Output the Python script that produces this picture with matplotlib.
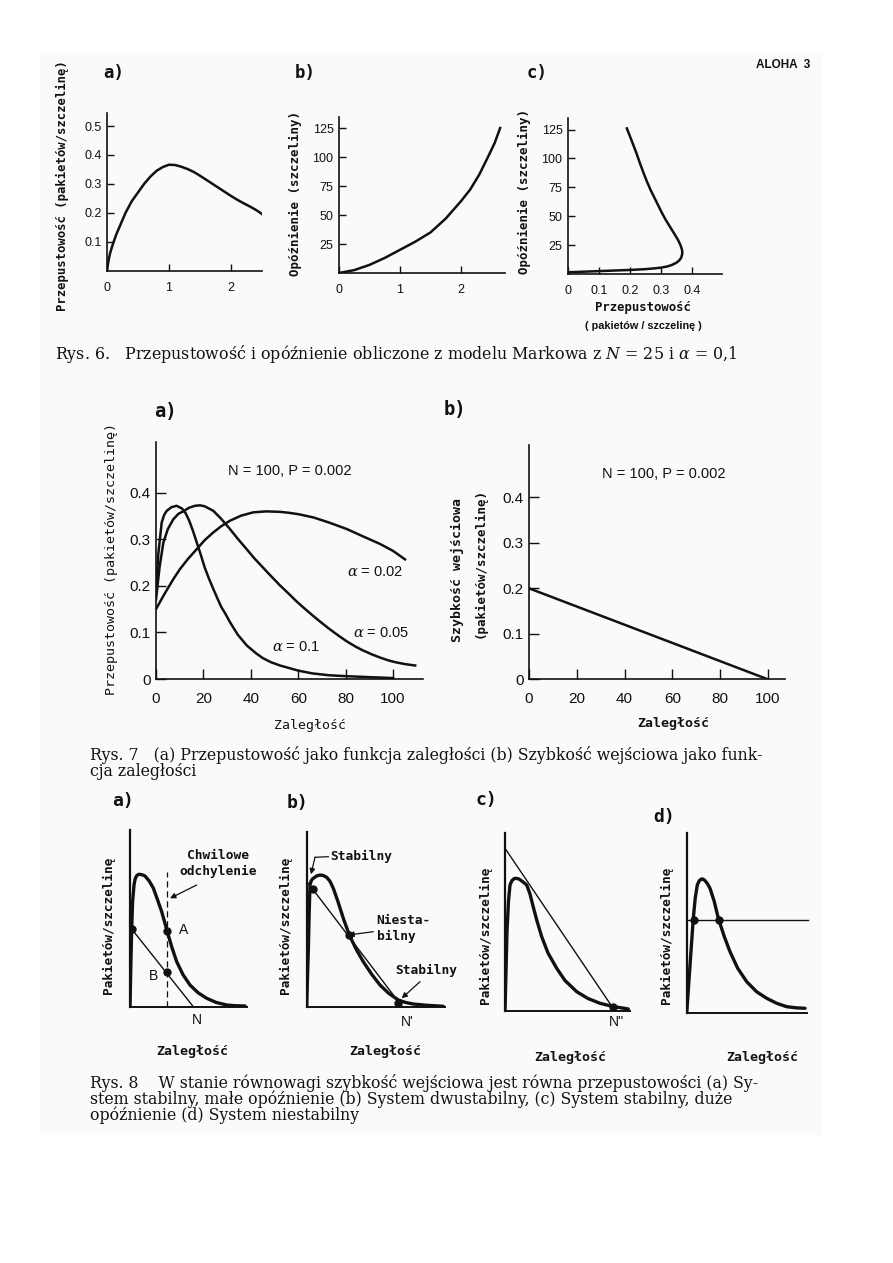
import matplotlib
matplotlib.use("Agg")
import matplotlib.pyplot as plt
from matplotlib.patches import Rectangle

plt.rcParams['mathtext.fontset'] = 'dejavuserif'

# ---------------- data ----------------
# Rys. 6 a) throughput vs offered load G
g6a = [0, 0.025, 0.05, 0.1, 0.15, 0.2, 0.3, 0.4, 0.5, 0.6, 0.7, 0.8, 0.9, 1.0, 1.1, 1.2, 1.3, 1.4, 1.5, 1.6, 1.7, 1.8, 1.9, 2.0, 2.1, 2.2, 2.3, 2.4, 2.47, 2.53]
s6a = [0, 0.035, 0.06, 0.095, 0.125, 0.15, 0.2, 0.24, 0.27, 0.30, 0.325, 0.345, 0.358, 0.366, 0.365, 0.359, 0.351, 0.341, 0.328, 0.314, 0.300, 0.286, 0.272, 0.258, 0.245, 0.233, 0.222, 0.21, 0.2, 0.19]
# Rys. 6 b) delay vs G
g6b = [0, 0.25, 0.5, 0.75, 1.0, 1.25, 1.5, 1.75, 2.0, 2.15, 2.3, 2.45, 2.55, 2.64]
d6b = [0, 2.5, 7, 13, 20, 27, 35, 47, 62, 72, 85, 101, 112, 125]
# Rys. 6 c) delay vs throughput
s6c = [0.0, 0.05, 0.10, 0.15, 0.20, 0.25, 0.28, 0.30, 0.32, 0.335, 0.35, 0.36, 0.366, 0.369, 0.368, 0.363, 0.355, 0.345, 0.33, 0.315, 0.302, 0.29, 0.278, 0.266, 0.254, 0.243, 0.232, 0.221, 0.206, 0.19]
d6c = [1.5, 2.0, 2.5, 3.0, 3.5, 4.2, 4.9, 5.5, 6.5, 7.8, 9.8, 12, 14.5, 18, 21, 25, 29.5, 34, 40.5, 47, 53.5, 60, 66.5, 73, 80.5, 88, 96, 104.5, 115, 126]

# Rys. 7 a) throughput vs backlog for three alphas
n01 = [0, 1, 2.4, 3.4, 4.5, 6.5, 8.7, 11, 12.5, 14, 15.6, 17.2, 19, 20.5, 22.3, 24.2, 26, 27.5, 29.5, 31.2, 34.5, 38.3, 42, 45, 48.5, 52.3, 60, 66, 73, 80.5, 90, 100]
s01 = [0.19, 0.27, 0.336, 0.352, 0.361, 0.369, 0.372, 0.366, 0.356, 0.34, 0.318, 0.293, 0.265, 0.24, 0.216, 0.193, 0.172, 0.155, 0.138, 0.122, 0.095, 0.072, 0.056, 0.045, 0.036, 0.029, 0.018, 0.012, 0.008, 0.006, 0.004, 0.002]
n005 = [0, 1.5, 3.1, 5, 7.3, 9.5, 11.5, 14, 16.5, 18.6, 20.5, 22, 24.2, 27.5, 31.2, 34.5, 38.2, 41.5, 45, 48.5, 52.3, 56, 59, 62.5, 66.4, 70, 73, 77, 80.4, 84, 87, 91, 94.5, 98, 101, 105, 109.3]
s005 = [0.17, 0.24, 0.293, 0.322, 0.343, 0.355, 0.36, 0.368, 0.372, 0.373, 0.371, 0.367, 0.361, 0.344, 0.322, 0.301, 0.279, 0.259, 0.24, 0.221, 0.201, 0.183, 0.168, 0.152, 0.135, 0.12, 0.108, 0.093, 0.081, 0.07, 0.062, 0.053, 0.046, 0.04, 0.036, 0.032, 0.029]
n002 = [0, 2.5, 5, 7.5, 10.1, 13.5, 17.2, 20.5, 24.2, 27.5, 31.2, 36, 41.1, 46.5, 52.3, 56, 60, 66.4, 73, 80.5, 87, 94.5, 100, 105]
s002 = [0.15, 0.173, 0.195, 0.216, 0.236, 0.258, 0.279, 0.298, 0.315, 0.328, 0.34, 0.351, 0.358, 0.36, 0.359, 0.357, 0.354, 0.347, 0.336, 0.322, 0.307, 0.29, 0.275, 0.257]
# Rys. 7 b) input rate vs backlog
n7b = [0, 100]
r7b = [0.2, 0.0]

# Rys. 8 schematic panels (arbitrary units)
xa = [0, 0.8, 1.7, 2.6, 4, 5.2, 6.7, 8.3, 10, 12.5, 15, 19, 23.3, 27.5, 31.7, 34.5, 37.3, 42, 46.7, 53, 60, 68, 76.7, 86, 96.7, 105, 115]
ya = [0, 40, 78.4, 105, 121.7, 128, 131, 132.2, 132.4, 131.8, 130.7, 126, 118.7, 107, 95, 85, 75, 59, 45, 32, 21.7, 14, 8.4, 4.3, 1.7, 1.0, 0.7]
la_x = [1.7, 63.3]
la_y = [77.7, 0]
dots_a_x = [1.7, 37.3, 37.3]
dots_a_y = [77.7, 75.7, 35]
dash_a_x = [37.3, 37.3]
dash_a_y = [0, 134.4]

xb = [0, 0.8, 1.7, 2.5, 3.3, 4.5, 6, 8, 10.5, 13.3, 16.5, 20, 23.3, 26.6, 31.5, 36.6, 42.6, 49.5, 56.6, 65, 73.3, 82, 91.6, 99, 106.6, 120, 136.6]
yb = [0, 30, 60, 95, 122.3, 126.5, 128.5, 130, 131.5, 132.3, 131.8, 130, 126, 119, 105, 89, 72.3, 58, 45.6, 33, 22.3, 14, 7.3, 4.8, 3.3, 2, 1]
lb_x = [1.6, 96]
lb_y = [124, 0]
dots_b_x = [6.6, 42.3, 91.6]
dots_b_y = [118, 72.6, 4]

xc = [0, 1, 2, 3.5, 5, 7, 9, 11, 14, 17.5, 21.7, 25, 28, 32, 36.7, 43, 51.7, 60, 71.7, 83, 95, 108, 123.3]
yc = [0, 40, 80, 110, 126, 130.5, 132.3, 132.7, 132, 129.5, 126, 117, 105, 90, 74.3, 58, 42.7, 30.5, 19.3, 12.5, 7.7, 4.5, 2]
lc_x = [0, 110]
lc_y = [162.7, 0]
dots_c_x = [108.3]
dots_c_y = [4.3]

xd = [0, 3.3, 6.6, 8.5, 10.6, 12.5, 14.5, 16, 18, 20.5, 23.3, 27.5, 31.6, 37.5, 43.3, 51, 60, 70, 80, 90, 100, 109, 118.3]
yd = [0, 48, 95, 115, 128.3, 132.5, 134.2, 134.3, 133, 130, 125, 112, 95, 77, 61.6, 45, 31.6, 21.5, 15, 10, 6.6, 5.5, 5]
ld_x = [0, 121.6]
ld_y = [93.3, 93.3]
dots_d_x = [7.6, 32.6]
dots_d_y = [93.3, 93.3]

# ---------------- figure ----------------
W, H = 893, 1263
fig = plt.figure(figsize=(W / 100, H / 100), dpi=100)
fig.patch.set_facecolor('white')
fig.add_artist(Rectangle((40 / W, 1 - 1135 / H), (823 - 40) / W, (1135 - 52) / H,
                         transform=fig.transFigure, facecolor='#fafafa',
                         edgecolor='none', zorder=-10))

MONO = 'DejaVu Sans Mono'
SANS = 'Liberation Sans'
SERIF = 'DejaVu Serif'
K = '#111111'


def add_ax(left, bottom, right, top, xlim, ylim):
    ax = fig.add_axes([left / W, 1 - bottom / H, (right - left) / W, (bottom - top) / H])
    ax.set_xlim(*xlim)
    ax.set_ylim(*ylim)
    ax.patch.set_alpha(0)
    for s in ['top', 'right']:
        ax.spines[s].set_visible(False)
    for s in ['left', 'bottom']:
        ax.spines[s].set_color(K)
        ax.spines[s].set_linewidth(1.2)
    return ax


def ftext(x, y, s, **kw):
    kw.setdefault('color', K)
    fig.text(x / W, 1 - y / H, s, **kw)


def ticks(ax, size, length):
    ax.tick_params(direction='in', length=length, width=1.0, colors=K,
                   labelsize=size, pad=4)
    for lab in ax.get_xticklabels() + ax.get_yticklabels():
        lab.set_family(SANS)


# ---- Rys. 6 a ----
ax = add_ax(107, 270.5, 262, 113, (0, 2.5), (0, 0.545))
ax.plot(g6a, s6a, color=K, lw=1.8)
ax.set_xticks([0, 1, 2])
ax.set_xticklabels(['0', '1', '2'])
ax.set_yticks([0.1, 0.2, 0.3, 0.4, 0.5])
ax.set_yticklabels(['0.1', '0.2', '0.3', '0.4', '0.5'])
ticks(ax, 9, 5)
ax.tick_params(axis='x', pad=8)

# ---- Rys. 6 b ----
ax = add_ax(339, 273, 505, 117, (0, 2.72), (0, 134.5))
ax.plot(g6b, d6b, color=K, lw=1.8)
ax.set_xticks([0, 1, 2])
ax.set_xticklabels(['0', '1', '2'])
ax.set_yticks([25, 50, 75, 100, 125])
ticks(ax, 9, 5)
ax.tick_params(axis='x', pad=8)

# ---- Rys. 6 c ----
ax = add_ax(568, 274, 722, 118, (0, 0.497), (0, 135))
ax.plot(s6c, d6c, color=K, lw=1.8)
ax.set_xticks([0, 0.1, 0.2, 0.3, 0.4])
ax.set_xticklabels(['0', '0.1', '0.2', '0.3', '0.4'])
ax.set_yticks([25, 50, 75, 100, 125])
ticks(ax, 9, 5)
ax.tick_params(axis='x', pad=8)

# Rys. 6 texts
ftext(114, 73, 'a)', family=MONO, weight='bold', fontsize=12.5, ha='center', va='center')
ftext(305, 73, 'b)', family=MONO, weight='bold', fontsize=12.5, ha='center', va='center')
ftext(537, 73, 'c)', family=MONO, weight='bold', fontsize=12.5, ha='center', va='center')
ftext(783, 65, 'ALOHA  3', family=SANS, weight='bold', fontsize=8.5, ha='center', va='center')
ftext(62, 186, 'Przepustowość (pakietów/szczelinę)', family=MONO, weight='bold',
      fontsize=8.8, rotation=90, ha='center', va='center')
ftext(295, 193, 'Opóźnienie (szczeliny)', family=MONO, weight='bold',
      fontsize=9.0, rotation=90, ha='center', va='center')
ftext(524, 192, 'Opóźnienie (szczeliny)', family=MONO, weight='bold',
      fontsize=9.0, rotation=90, ha='center', va='center')
ftext(643, 307, 'Przepustowość', family=MONO, weight='bold', fontsize=8.8, ha='center', va='center')
ftext(643, 326, '( pakietów / szczelinę )', family=SANS, weight='bold', fontsize=7.8, ha='center', va='center')
ftext(55, 354, 'Rys. 6.   Przepustowość i opóźnienie obliczone z modelu Markowa z $N$ = 25 i $\\alpha$ = 0,1',
      family=SERIF, fontsize=11.4, ha='left', va='center')

# ---- Rys. 7 a ----
ax = add_ax(156, 679, 423, 442, (0, 112.6), (0, 0.509))
ax.plot(n01, s01, color=K, lw=1.8)
ax.plot(n005, s005, color=K, lw=1.8)
ax.plot(n002, s002, color=K, lw=1.8)
ax.set_xticks([0, 20, 40, 60, 80, 100])
ax.set_yticks([0, 0.1, 0.2, 0.3, 0.4])
ax.set_yticklabels(['0', '0.1', '0.2', '0.3', '0.4'])
ticks(ax, 11, 7)
ax.tick_params(axis='x', pad=9)
ax.text(56.5, 0.447, 'N = 100, P = 0.002', family=SANS, fontsize=10.5, ha='center', va='center', color=K)
ax.text(92.5, 0.23, '$\\alpha$ = 0.02', family=SANS, fontsize=10.5, ha='center', va='center', color=K)
ax.text(95, 0.098, '$\\alpha$ = 0.05', family=SANS, fontsize=10.5, ha='center', va='center', color=K)
ax.text(59, 0.069, '$\\alpha$ = 0.1', family=SANS, fontsize=10.5, ha='center', va='center', color=K)

# ---- Rys. 7 b ----
ax = add_ax(529, 679.3, 785, 445, (0, 107.2), (0, 0.515))
ax.plot(n7b, r7b, color=K, lw=1.8)
ax.set_xticks([0, 20, 40, 60, 80, 100])
ax.set_yticks([0, 0.1, 0.2, 0.3, 0.4])
ax.set_yticklabels(['0', '0.1', '0.2', '0.3', '0.4'])
ticks(ax, 11, 7)
ax.tick_params(axis='x', pad=9)
ax.text(56.5, 0.452, 'N = 100, P = 0.002', family=SANS, fontsize=10.5, ha='center', va='center', color=K)

ftext(165, 412, 'a)', family=MONO, weight='bold', fontsize=13.5, ha='center', va='center')
ftext(455, 410, 'b)', family=MONO, weight='bold', fontsize=13.5, ha='center', va='center')
ftext(112, 559, 'Przepustowość (pakietów/szczelinę)', family=MONO,
      fontsize=9.6, rotation=90, ha='center', va='center')
ftext(310, 725, 'Zaległość', family=MONO, fontsize=9.5, ha='center', va='center')
ftext(457, 570, 'Szybkość wejściowa', family=MONO, weight='bold',
      fontsize=9.5, rotation=90, ha='center', va='center')
ftext(480, 563, '(pakietów/szczelinę)', family=MONO, weight='bold',
      fontsize=9.0, rotation=90, ha='center', va='center')
ftext(673, 724, 'Zaległość', family=MONO, weight='bold', fontsize=9.5, ha='center', va='center')
ftext(90, 755, 'Rys. 7   (a) Przepustowość jako funkcja zaległości (b) Szybkość wejściowa jako funk-',
      family=SERIF, fontsize=11.3, ha='left', va='center')
ftext(90, 771, 'cja zaległości', family=SERIF, fontsize=11.3, ha='left', va='center')

# ---- Rys. 8 ----
arrow_kw = dict(arrowstyle='-|>', color=K, lw=0.9, mutation_scale=8, shrinkA=0, shrinkB=0)
lab_kw = dict(family=MONO, weight='bold', fontsize=9.3, color=K)


def schem_ax(left, bottom, right, top):
    ax = add_ax(left, bottom, right, top, (0, right - left), (0, bottom - top))
    ax.set_xticks([])
    ax.set_yticks([])
    ax.spines['left'].set_linewidth(1.6)
    ax.spines['bottom'].set_linewidth(1.4)
    return ax


# a
ax = schem_ax(130, 1006.7, 246.7, 830)
ax.plot(xa, ya, color=K, lw=2.4, solid_capstyle='round', solid_joinstyle='round')
ax.plot(la_x, la_y, color=K, lw=1.0)
ax.plot(dash_a_x, dash_a_y, color=K, lw=0.9, ls=(0, (5, 3)))
ax.plot(dots_a_x, dots_a_y, 'o', color=K, ms=5)
ax.text(53.3, 76.7, 'A', family=SANS, fontsize=10, ha='center', va='center', color=K)
ax.text(24, 31, 'B', family=SANS, fontsize=10, ha='center', va='center', color=K)
ax.text(66.7, -13.3, 'N', family=SANS, fontsize=10, ha='center', va='center', color=K, clip_on=False)
ax.text(88, 151.7, 'Chwilowe', ha='center', va='center', clip_on=False, **lab_kw)
ax.text(88.3, 135.7, 'odchylenie', ha='center', va='center', clip_on=False, **lab_kw)
ax.annotate('', xy=(40, 108.4), xytext=(66.7, 121.7), arrowprops=arrow_kw)

# b
ax = schem_ax(306.7, 1007.3, 445, 831.7)
ax.plot(xb, yb, color=K, lw=2.4, solid_capstyle='round', solid_joinstyle='round')
ax.plot(lb_x, lb_y, color=K, lw=1.0)
ax.plot(dots_b_x, dots_b_y, 'o', color=K, ms=5)
ax.text(24, 150.6, 'Stabilny', ha='left', va='center', clip_on=False, **lab_kw)
ax.plot([21.6, 8.3], [150.6, 150], color=K, lw=0.9)
ax.annotate('', xy=(4.3, 133), xytext=(8.3, 150), arrowprops=arrow_kw)
ax.text(70, 87.3, 'Niesta-', ha='left', va='center', clip_on=False, **lab_kw)
ax.text(70, 70.6, 'bilny', ha='left', va='center', clip_on=False, **lab_kw)
ax.annotate('', xy=(41.6, 72.3), xytext=(66.6, 75.6), arrowprops=arrow_kw)
ax.text(88.3, 37.3, 'Stabilny', ha='left', va='center', clip_on=False, **lab_kw)
ax.annotate('', xy=(95, 9), xytext=(113.3, 25.6), arrowprops=arrow_kw)
ax.text(100, -14.4, "N'", family=SANS, fontsize=10, ha='center', va='center', color=K, clip_on=False)

# c
ax = schem_ax(505, 1011, 630, 833.3)
ax.plot(xc, yc, color=K, lw=2.4, solid_capstyle='round', solid_joinstyle='round')
ax.plot(lc_x, lc_y, color=K, lw=1.0)
ax.plot(dots_c_x, dots_c_y, 'o', color=K, ms=5)
ax.text(111.7, -10.7, "N''", family=SANS, fontsize=10, ha='center', va='center', color=K, clip_on=False)

# d
ax = schem_ax(686.7, 1013.3, 806.7, 833.3)
ax.plot(xd, yd, color=K, lw=2.4, solid_capstyle='round', solid_joinstyle='round')
ax.plot(ld_x, ld_y, color=K, lw=1.0, clip_on=False)
ax.plot(dots_d_x, dots_d_y, 'o', color=K, ms=5)

for x, y, s in [(123, 801, 'a)'), (298, 803, 'b)'), (486, 800, 'c)'), (664, 817, 'd)')]:
    ftext(x, y, s, family=MONO, weight='bold', fontsize=13, ha='center', va='center')
for x, y in [(108, 925), (285, 925), (485, 935), (666, 935)]:
    ftext(x, y, 'Pakietów/szczelinę', family=MONO, weight='bold', fontsize=9.2,
          rotation=90, ha='center', va='center')
for x, y in [(192, 1052), (385, 1052), (570, 1057), (762, 1057)]:
    ftext(x, y, 'Zaległość', family=MONO, weight='bold', fontsize=9.5, ha='center', va='center')

ftext(90, 1083, 'Rys. 8    W stanie równowagi szybkość wejściowa jest równa przepustowości (a) Sy-',
      family=SERIF, fontsize=11.3, ha='left', va='center')
ftext(90, 1099, 'stem stabilny, małe opóźnienie (b) System dwustabilny, (c) System stabilny, duże',
      family=SERIF, fontsize=11.3, ha='left', va='center')
ftext(90, 1115, 'opóźnienie (d) System niestabilny',
      family=SERIF, fontsize=11.3, ha='left', va='center')

fig.savefig('out.png', dpi=100)
